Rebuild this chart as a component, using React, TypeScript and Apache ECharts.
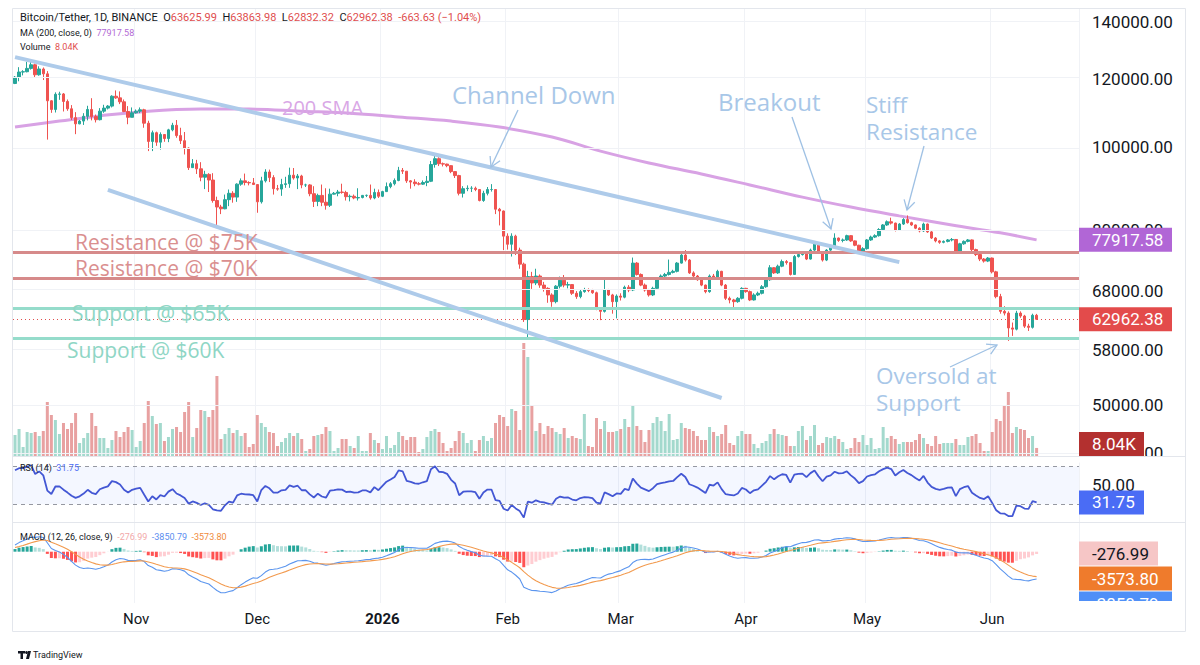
import React, { useEffect, useRef } from "react";
import * as echarts from "echarts";

// ---------------- DATA (BTC/USDT daily, prices in thousands of USDT) ----------------
const firstOpen = 118.6;
const closeOct = [120.6,122.3,122.4,123.5,124.7,121.4,123.3,121.7,113.2,110.6,115.2,115.3,113.0,110.8,108.2,106.4,107.2,108.6,110.6,108.5,107.6,110.1,111.0,111.6,114.6,114.1,112.9,110.0,108.3,109.6];
const highOct = [121.0,123.9,122.9,125.7,126.2,125.1,124.2,123.8,122.6,113.4,115.8,116.0,115.6,113.6,111.9,109.8,107.5,109.5,111.7,114.0,109.1,111.0,112.0,111.9,114.9,116.4,116.1,113.6,111.6,111.2];
const lowOct = [118.4,119.3,121.2,122.2,123.1,120.6,121.1,119.7,102.0,109.6,109.7,113.5,110.0,110.2,107.5,103.5,106.3,106.1,107.4,107.4,106.8,107.4,109.6,110.6,111.2,113.8,112.2,109.8,106.3,108.6];
const closeNov = [110.1,110.5,106.6,101.5,103.9,101.3,103.4,102.3,104.7,106.0,103.1,101.7,99.7,94.6,95.6,94.3,92.2,92.9,91.5,86.6,85.1,84.7,86.8,88.3,87.4,90.5,91.3,90.9,90.8,90.4];
const highNov = [110.6,111.2,110.8,107.3,104.5,104.2,104.0,103.4,105.0,106.7,107.5,105.3,104.1,99.9,96.8,96.6,96.0,93.8,93.2,93.2,87.5,85.6,88.0,89.2,88.8,90.7,91.9,93.1,91.2,92.0];
const lowNov = [109.4,109.5,105.3,98.9,98.9,100.3,99.3,101.4,101.3,104.3,102.5,100.8,98.0,94.0,94.6,93.0,91.2,89.3,88.6,86.1,80.6,83.5,84.6,85.3,86.1,86.3,90.1,90.2,90.2,90.3];
const closeDec = [86.3,91.3,93.5,92.1,89.4,89.3,90.4,90.6,92.7,92.0,92.5,90.3,90.3,88.2,86.4,87.8,86.2,85.5,88.1,88.3,88.6,88.5,87.5,87.6,87.2,87.3,87.8,87.8,87.2,88.5,87.6];
const highDec = [90.4,92.3,94.2,94.1,92.7,90.3,91.8,92.3,94.6,94.5,93.0,92.8,90.6,90.5,90.0,88.2,90.4,89.5,89.4,88.6,89.1,90.6,88.9,88.0,88.0,89.5,87.9,88.0,90.4,89.4,89.2];
const lowDec = [83.8,85.9,90.9,91.0,88.0,88.9,87.7,89.6,89.6,91.6,89.3,89.5,89.8,87.6,85.1,85.3,85.3,84.5,85.1,88.0,87.6,88.2,86.6,86.4,86.9,86.6,87.1,87.4,86.8,86.9,87.2];
const closeJan = [88.7,89.9,90.6,91.4,93.9,93.7,91.3,91.0,90.6,90.5,90.9,91.2,95.4,96.9,95.6,95.5,95.1,93.6,92.6,88.3,89.4,89.5,89.5,89.2,86.6,88.3,89.2,89.2,84.6,84.2,78.7];
const highJan = [88.9,90.9,91.0,91.9,94.8,94.5,93.6,91.5,91.7,91.0,91.4,92.5,96.3,97.9,97.3,95.9,95.6,95.2,93.6,92.8,90.0,90.2,90.0,89.9,89.3,88.9,89.8,90.5,89.2,84.9,84.3];
const lowJan = [87.4,88.6,89.5,90.2,91.2,93.0,90.8,89.4,90.0,90.2,90.3,90.0,91.0,94.6,95.0,94.9,94.7,93.2,92.0,87.8,87.3,88.8,88.6,88.8,86.4,86.3,87.8,88.7,83.5,81.0,75.8];
const closeFeb = [77.0,78.7,75.8,73.0,62.9,70.6,69.4,70.7,69.0,68.4,67.2,66.0,68.8,69.9,69.0,69.1,67.5,66.9,67.8,68.1,68.0,67.6,64.8,64.3,68.1,67.2,66.0,67.0];
const highFeb = [79.3,79.3,79.0,76.3,73.3,71.7,71.5,72.1,71.0,69.6,68.6,67.5,69.0,70.6,70.9,69.6,69.2,67.9,68.1,68.5,68.4,68.3,67.8,65.0,70.2,68.3,67.4,67.3];
const lowFeb = [75.9,74.5,74.8,72.1,62.5,60.0,68.3,69.0,68.5,67.8,65.8,65.1,65.7,68.4,68.6,68.4,67.2,66.5,66.6,67.6,67.7,67.4,64.5,62.8,64.1,67.0,63.9,63.1];
const closeMar = [66.8,68.6,68.1,73.2,71.0,69.0,68.1,67.2,68.4,70.2,70.7,71.0,71.4,71.6,73.2,74.8,73.8,71.3,70.7,70.0,69.0,67.8,70.7,70.4,71.6,69.0,66.6,66.3,66.0,66.6,68.4];
const highMar = [67.5,68.9,69.0,74.3,73.4,71.2,69.3,68.3,68.7,70.5,71.0,71.3,73.9,71.9,73.4,75.0,75.8,74.0,71.6,70.9,70.1,69.1,71.0,71.1,71.9,71.7,69.2,66.9,66.5,66.8,68.6];
const lowMar = [66.2,66.6,67.7,67.9,70.8,68.8,67.8,66.9,67.0,68.2,70.0,70.5,70.8,71.2,71.4,73.1,73.5,71.1,70.5,69.8,68.8,67.5,67.6,70.1,70.2,68.8,66.3,65.7,65.0,65.8,66.4];
const closeApr = [67.8,66.3,67.2,67.5,68.7,70.0,72.3,71.3,72.6,73.5,73.3,71.0,74.5,74.9,75.0,74.0,75.8,77.1,75.4,73.8,75.8,76.4,78.3,77.8,77.9,78.8,77.7,76.8,75.4,76.1];
const highApr = [68.5,68.0,67.5,67.8,69.0,70.3,72.8,72.4,72.9,73.9,73.8,73.4,74.8,75.4,75.3,75.2,76.1,77.5,77.2,75.5,76.0,76.7,79.3,78.4,78.2,79.0,78.9,77.8,76.9,76.4];
const lowApr = [67.6,66.1,66.2,67.0,67.3,68.5,69.8,71.1,71.1,72.4,72.9,70.8,70.9,74.3,74.7,73.8,73.9,75.6,75.2,73.5,73.6,75.6,76.2,77.5,77.4,77.7,77.5,76.6,75.2,75.2];
const closeMay = [77.9,78.5,78.8,80.1,81.1,81.8,81.5,80.0,81.3,82.3,81.6,81.1,80.4,79.8,81.3,79.6,78.3,77.7,77.4,77.6,77.9,78.0,75.4,77.1,77.6,77.9,75.9,74.9,74.0,73.6,74.2];
const highMay = [78.1,78.8,79.1,80.4,81.3,82.1,82.7,81.6,81.5,82.6,83.2,81.8,81.2,80.6,81.6,81.4,79.8,78.5,77.9,77.8,78.1,78.3,78.1,77.3,77.8,78.1,78.0,76.1,75.1,74.2,74.4];
const lowMay = [75.9,77.7,78.3,78.6,79.9,80.9,81.2,79.7,79.8,81.1,81.4,80.9,80.2,79.5,79.6,79.4,78.1,77.4,77.1,77.2,77.4,77.6,75.1,75.2,76.9,77.4,75.6,74.6,73.6,73.3,73.4];
const closeJun = [71.5,66.9,64.3,64.0,61.5,61.3,64.0,63.5,61.8,61.6,63.62599,62.96238];
const highJun = [74.3,71.7,67.4,65.2,64.3,62.4,64.4,64.3,63.7,62.2,63.9,63.86398];
const lowJun = [71.2,66.6,63.9,63.6,59.4,60.2,61.1,63.2,61.5,61.0,61.4,62.83232];

// volume, thousands of BTC
const volA = [21,27,9,24,23,24,20,25,54,41, 36,22,33,27,33,43,13,18,23,43, 30,18,18,8,16,25,19,24,29,26, 9,15,33,55,40,32,33,15,19,27, 29,24,44,54,19,28,46,45,39,46, 80,17,22,28,23,26,20,23,9,12, 41,33,29,24,23,10,14,18,23,20, 23,17,5,7,20,21,22,29,25,5, 8,17,17,10,8,20,5,5,23,16, 13,7,20,8,11,24,20,16,19,19, 4,7,19,25,27,24,13,5,8,15, 25,23,13,16,5,16,20,15,18,33, 41,39,30,47,45,26];
const volB = [113,99,51,25,33,22,30,28,24,22, 28,18,20,18,17,42,10,9,38,27, 35,24,24,25,27,37,29,50,30,26, 14,26,33,39,35,25,42,16,17,33, 28,27,25,20,16,16,29,24,20,22, 31,13,11,20,25,22,22,12,8,13, 15, 22,27,22,21,20,10,10,25,30,16, 20,31,11,13,19,18,20,17,14,7, 8,18,14,21,11,18,7,8,29,18, 20,17,12,14,14,14,16,22,18,12, 10,20,12,13,13,13,17,11,11,19, 20,22,13,5,5,24,37,35,50,64, 23,29,27,26,18,20,8.04];

// 200-day SMA: [candle index, value in thousands]
const maPoints = [[0,105.5],[11,107.2],[21,108.7],[33,110.1],[46,110.7],[58,110.7],[71,110.1],[83,109.5],[95,108.4],[108,107.2],[120,105.5],[133,102.7],[145,98.9],[157,95.8],[170,93.0],[182,90.3],[195,87.4],[207,85.1],[219,83.1],[232,81.1],[244,79.4],[253,77.91758]];

const priceTicks = [44000, 50000, 58000, 68000, 80000, 100000, 120000, 140000];
const rsiTicks = [50];
const resistanceLevels = [75000, 70000];
const supportLevels = [65000, 60000];
const channelUpper = [[0, 127300], [219, 73400]];
const channelLower = [[23, 89100], [175, 50950]];
const lastPrice = 62962.38;
const lastMA = 77917.58;
const lastVol = 8.04;
const lastRSI = 31.75;
const lastHist = -276.99;
const lastSignal = -3573.8;
const lastMacd = -3850.79;
const headerOHLC = ["63625.99", "63863.98", "62832.32", "62962.38"];
const headerChange = "-663.63 (\u22121.04%)";
const monthNames = ["Jan","Feb","Mar","Apr","May","Jun","Jul","Aug","Sep","Oct","Nov","Dec"];

// indicator state at the left edge
const RSI_SEED_GAIN = 1200, RSI_SEED_LOSS = 700;
const EMA12_SEED = 116500, EMA26_SEED = 115800, SIGNAL_SEED = 500;

// ---------------- assembly ----------------
const closes = [...closeOct, ...closeNov, ...closeDec, ...closeJan, ...closeFeb, ...closeMar, ...closeApr, ...closeMay, ...closeJun];
const highs = [...highOct, ...highNov, ...highDec, ...highJan, ...highFeb, ...highMar, ...highApr, ...highMay, ...highJun];
const lows = [...lowOct, ...lowNov, ...lowDec, ...lowJan, ...lowFeb, ...lowMar, ...lowApr, ...lowMay, ...lowJun];
const volumes = [...volA, ...volB];
const N = closes.length;
const START = Date.UTC(2025, 9, 2);
const dates = Array.from({ length: N }, (_, i) => new Date(START + i * 86400000).toISOString().slice(0, 10));
const PAD = 10;
const cats = dates.concat(Array.from({ length: PAD }, (_, k) => "pad" + k));
const isMonthStart = (v: string) => /^\d{4}-\d{2}-01$/.test(v);

const UP = "#26a69a", DN = "#ef5350";
const VUP = "#a3d9cd", VDN = "#e8a1a1";

function build() {
  const opens = closes.map((c, i) => (i === 0 ? firstOpen : closes[i - 1]));
  const candle = closes.map((c, i) => {
    const o = opens[i];
    const h = Math.max(highs[i], o, c);
    const l = Math.min(lows[i], o, c);
    return [Math.log(o * 1000), Math.log(c * 1000), Math.log(l * 1000), Math.log(h * 1000)];
  });
  const vol = volumes.map((v, i) => ({ value: v, itemStyle: { color: closes[i] >= opens[i] ? VUP : VDN } }));
  let ag = RSI_SEED_GAIN, al = RSI_SEED_LOSS, prev = firstOpen * 1000;
  const rsi = closes.map((k) => {
    const c = k * 1000, ch = c - prev;
    ag = (ag * 13 + Math.max(ch, 0)) / 14;
    al = (al * 13 + Math.max(-ch, 0)) / 14;
    prev = c;
    return 100 - 100 / (1 + ag / al);
  });
  let e12 = EMA12_SEED, e26 = EMA26_SEED, sig = SIGNAL_SEED;
  const macd: number[] = [], signal: number[] = [], hist: number[] = [];
  closes.forEach((k) => {
    const c = k * 1000;
    e12 += (2 / 13) * (c - e12);
    e26 += (2 / 27) * (c - e26);
    const m = e12 - e26;
    sig += 0.2 * (m - sig);
    macd.push(m); signal.push(sig); hist.push(m - sig);
  });
  const histData = hist.map((h, i) => {
    const p = i === 0 ? h : hist[i - 1];
    const col = h >= 0 ? (h >= p ? "#26a69a" : "#b2dfdb") : (h < p ? "#ff5252" : "#ffcdd2");
    return { value: h, itemStyle: { color: col } };
  });
  return { candle, vol, rsi, macd, signal, histData };
}

const LMAX = Math.log(145250), LMIN = Math.log(43600);
const GRID_L = 13, GRID_R = 121;

function xAxisFor(g: number) {
  return {
    type: "category", gridIndex: g, data: cats, boundaryGap: true,
    axisLine: { show: false }, axisTick: { show: false },
    axisLabel: g === 3 ? {
      show: true, interval: (i: number, v: string) => isMonthStart(v), margin: 8,
      color: "#131722", fontSize: 15, fontFamily: "Roboto",
      formatter: (v: string) => {
        const m = parseInt(v.slice(5, 7), 10) - 1;
        return m === 0 ? "{b|" + v.slice(0, 4) + "}" : monthNames[m];
      },
      rich: { b: { fontWeight: "bold", fontSize: 15, color: "#131722", fontFamily: "Roboto" } },
    } : { show: false },
    splitLine: { show: g !== 1, interval: (i: number, v: string) => isMonthStart(v), lineStyle: { color: "#f0f2f6", width: 1 } },
  };
}

function arrow(ax: number, ay: number, bx: number, by: number, color: string) {
  const dx = bx - ax, dy = by - ay, L = Math.hypot(dx, dy);
  const ux = -dx / L, uy = -dy / L, len = 11, c = Math.cos(Math.PI / 6), s = Math.sin(Math.PI / 6);
  const p1 = [bx + len * (ux * c - uy * s), by + len * (ux * s + uy * c)];
  const p2 = [bx + len * (ux * c + uy * s), by + len * (-ux * s + uy * c)];
  return [
    { type: "line", z: 50, shape: { x1: ax, y1: ay, x2: bx, y2: by }, style: { stroke: color, lineWidth: 1.3 } },
    { type: "polyline", z: 50, shape: { points: [p1, [bx, by], p2] }, style: { stroke: color, lineWidth: 1.3, fill: null } },
  ];
}

function txt(x: number, y: number, text: string, size: number, color: string, family = "Open Sans", z = 50) {
  return { type: "text", z, x, y, style: { text, fill: color, fontSize: size, fontFamily: family, align: "left", verticalAlign: "middle" } };
}

function txt2(x: number, yFirst: number, text: string, size: number, lh: number, color: string) {
  return { type: "text", z: 50, x, y: yFirst - lh / 2, style: { text, fill: color, fontSize: size, fontFamily: "Open Sans", lineHeight: lh, align: "left", verticalAlign: "top" } };
}

function box(y: number, w: number, fill: string, text: string, color = "#ffffff") {
  return [
    { type: "rect", z: 70, shape: { x: 1079, y: y - 12, width: w, height: 24 }, style: { fill } },
    { type: "text", z: 71, x: 1092, y, style: { text, fill: color, fontSize: 17, fontFamily: "Roboto", align: "left", verticalAlign: "middle" } },
  ];
}

function buildGraphic(ys: any) {
  const BLUE_T = "#a8c7e8";
  const els: any[] = [];
  els.push(txt(282, 107, "200 SMA", 20, "#d9a7e6"));
  els.push(txt(452, 94, "Channel Down", 24, BLUE_T));
  els.push(txt(718, 101, "Breakout", 24, BLUE_T));
  els.push(txt2(866, 104, "Stiff\nResistance", 22.5, 27, BLUE_T));
  els.push(txt2(876, 375, "Oversold at\nSupport", 22.5, 27, BLUE_T));
  els.push(txt(75, 242, "Resistance @ $75K", 21, "#da8f8f"));
  els.push(txt(75, 268, "Resistance @ $70K", 21, "#da8f8f"));
  els.push(txt(72, 313, "Support @ $65K", 21, "#8fd6c5"));
  els.push(txt(67, 350, "Support @ $60K", 21, "#8fd6c5"));
  const AR = "#9fc1e4";
  els.push(...arrow(518, 110, 491, 167, AR));
  els.push(...arrow(792, 117, 831, 229, AR));
  els.push(...arrow(924, 146, 907, 210, AR));
  els.push(...arrow(950, 367, 997, 345, AR));
  const dk = "#131722", rd = "#e04e4e";
  const mk = (fill: string, s = 9) => ({ fill, fontSize: s, fontFamily: "Roboto" });
  const rich = {
    d: mk(dk), r: mk(rd), p: mk("#b36ad5"), b: mk("#4a6cf5"),
    k: mk("#f2a9a9"), u: mk("#5b8def"), o: mk("#f08a3a"),
    D: mk(dk, 11), R: mk(rd, 11),
  };
  const rt = (x: number, y: number, text: string, base = 9) => ({ type: "text", z: 60, x, y, style: { text, rich, fontSize: base, fontFamily: "Roboto", fill: dk, align: "left", verticalAlign: "middle" } });
  els.push(rt(20, 17, "{D|Bitcoin/Tether, 1D, BINANCE}  {D|O}{R|" + headerOHLC[0] + "}  {D|H}{R|" + headerOHLC[1] + "}  {D|L}{R|" + headerOHLC[2] + "}  {D|C}{R|" + headerOHLC[3] + "}  {R|" + headerChange + "}", 11));
  els.push(rt(20, 33, "{d|MA (200, close, 0)}  {p|" + lastMA.toFixed(2) + "}"));
  els.push(rt(20, 47, "{d|Volume}  {r|" + lastVol.toFixed(2) + "K}"));
  els.push(rt(20, 468, "{d|RSI (14)}  {b|" + lastRSI.toFixed(2) + "}"));
  els.push(rt(20, 537, "{d|MACD (12, 26, close, 9)}  {k|" + lastHist.toFixed(2) + "}  {u|" + lastMacd.toFixed(2) + "}  {o|" + lastSignal.toFixed(2) + "}"));
  els.push(...box(ys.ma, 93, "#b166d6", lastMA.toFixed(2)));
  els.push(...box(ys.price, 93, "#e34b4b", lastPrice.toFixed(2)));
  els.push(...box(Math.min(ys.vol, 444), 65, "#b3302f", lastVol.toFixed(2) + "K"));
  els.push(...box(ys.rsi, 65, "#4a6cf5", lastRSI.toFixed(2)));
  const h1 = ys.hist, s1 = Math.max(ys.signal, h1 + 25), m1 = Math.max(ys.macd, s1 + 25);
  els.push(...box(h1, 79, "#f6c6c6", lastHist.toFixed(2), "#131722"));
  els.push(...box(s1, 93, "#ef7b2c", lastSignal.toFixed(2)));
  els.push(...box(m1, 93, "#4f8ff7", lastMacd.toFixed(2)));
  els.push({ type: "rect", z: 80, shape: { x: 1079, y: 601, width: 107, height: 31 }, style: { fill: "#ffffff" } });
  els.push({ type: "rect", z: 80, shape: { x: 1079, y: 456.5, width: 107, height: 6 }, style: { fill: "#ffffff" } });
  const fr = "#e3e6ec";
  els.push({ type: "rect", z: 90, shape: { x: 12.5, y: 8.5, width: 1173, height: 623 }, style: { fill: null, stroke: fr, lineWidth: 1 } });
  els.push({ type: "line", z: 90, shape: { x1: 12.5, y1: 456.5, x2: 1185.5, y2: 456.5 }, style: { stroke: fr, lineWidth: 1 } });
  els.push({ type: "line", z: 90, shape: { x1: 12.5, y1: 522.5, x2: 1185.5, y2: 522.5 }, style: { stroke: fr, lineWidth: 1 } });
  els.push({ type: "rect", z: 90, shape: { x: 18, y: 651, width: 7, height: 2.5 }, style: { fill: dk } });
  els.push({ type: "rect", z: 90, shape: { x: 20.5, y: 651, width: 2.5, height: 8 }, style: { fill: dk } });
  els.push({ type: "circle", z: 90, shape: { cx: 26.5, cy: 652.5, r: 1.4 }, style: { fill: dk } });
  els.push({ type: "polygon", z: 90, shape: { points: [[28, 651], [31, 651], [29, 659], [26, 659]] }, style: { fill: dk } });
  els.push(txt(33, 655, "TradingView", 9, dk, "Roboto", 90));
  return els;
}

export default function App() {
  const ref = useRef<HTMLDivElement>(null);
  useEffect(() => {
    if (!ref.current) return;
    const chart = echarts.init(ref.current, undefined, { renderer: "svg" });
    const d = build();
    const L = (p: number) => Math.log(p);
    const hl = (v: number, color: string, width: number, type: any = "solid") => ({ yAxis: L(v), lineStyle: { color, width, type } });
    const option: any = {
      animation: false,
      backgroundColor: "#ffffff",
      textStyle: { fontFamily: "Roboto" },
      grid: [
        { left: GRID_L, right: GRID_R, top: 8, height: 448 },
        { left: GRID_L, right: GRID_R, top: 336, height: 120 },
        { left: GRID_L, right: GRID_R, top: 457, height: 66 },
        { left: GRID_L, right: GRID_R, top: 523, height: 80 },
      ],
      xAxis: [0, 1, 2, 3].map(xAxisFor),
      yAxis: [
        {
          type: "value", gridIndex: 0, position: "right", min: LMIN, max: LMAX,
          splitLine: { show: false }, axisLine: { show: false }, axisTick: { show: false },
          axisLabel: {
            customValues: priceTicks.map(L), formatter: (v: number) => Math.round(Math.exp(v)).toFixed(2),
            margin: 13, color: "#131722", fontSize: 17, fontFamily: "Roboto", align: "left",
          },
        },
        { type: "value", gridIndex: 1, min: 0, max: 120, show: false },
        {
          type: "value", gridIndex: 2, position: "right", min: 10, max: 80,
          splitLine: { show: false }, axisLine: { show: false }, axisTick: { show: false },
          axisLabel: { customValues: rsiTicks, formatter: (v: number) => v.toFixed(2), margin: 13, color: "#131722", fontSize: 17, fontFamily: "Roboto", align: "left" },
        },
        { type: "value", gridIndex: 3, min: -7440, max: 4160, show: false },
      ],
      series: [
        { type: "bar", name: "Volume", xAxisIndex: 1, yAxisIndex: 1, data: d.vol, barWidth: 3, z: 1, silent: true },
        {
          type: "line", name: "MA200", xAxisIndex: 0, yAxisIndex: 0, z: 3, silent: true,
          data: maPoints.map(([i, v]) => [i, L(v * 1000)]), smooth: 0.4, showSymbol: false,
          lineStyle: { color: "#d8a2e4", width: 3 },
          markLine: {
            silent: true, symbol: ["none", "none"], label: { show: false },
            data: priceTicks.map((p) => hl(p, "#f0f2f6", 1)),
          },
        },
        {
          type: "candlestick", name: "BTCUSDT", xAxisIndex: 0, yAxisIndex: 0, z: 4, data: d.candle, barWidth: 3,
          itemStyle: { color: UP, color0: DN, borderColor: UP, borderColor0: DN, borderWidth: 1 },
          markLine: {
            silent: true, symbol: ["none", "none"], label: { show: false },
            data: [
              ...resistanceLevels.map((v) => hl(v, "#d68a8a", 3)),
              ...supportLevels.map((v) => hl(v, "#95dccb", 3)),
              hl(lastPrice, "#e04e4e", 1, [1, 3]),
              [
                { coord: [channelUpper[0][0], L(channelUpper[0][1])], lineStyle: { color: "#aecbea", width: 4, type: "solid" } },
                { coord: [channelUpper[1][0], L(channelUpper[1][1])] },
              ],
              [
                { coord: [channelLower[0][0], L(channelLower[0][1])], lineStyle: { color: "#aecbea", width: 4, type: "solid" } },
                { coord: [channelLower[1][0], L(channelLower[1][1])] },
              ],
            ],
          },
        },
        {
          type: "line", name: "RSI", xAxisIndex: 2, yAxisIndex: 2, data: d.rsi, showSymbol: false, silent: true,
          lineStyle: { color: "#4357d4", width: 1.8 },
          markArea: { silent: true, itemStyle: { color: "rgba(41,98,255,0.05)" }, data: [[{ yAxis: 70 }, { yAxis: 30 }]] },
          markLine: {
            silent: true, symbol: ["none", "none"], label: { show: false },
            lineStyle: { color: "#9598a1", type: [4, 4], width: 1 },
            data: [{ yAxis: 70 }, { yAxis: 30 }],
          },
        },
        { type: "bar", name: "Histogram", xAxisIndex: 3, yAxisIndex: 3, data: d.histData, barWidth: 3, silent: true },
        { type: "line", name: "MACD", xAxisIndex: 3, yAxisIndex: 3, data: d.macd, showSymbol: false, silent: true, lineStyle: { color: "#5b95ee", width: 1.1 } },
        { type: "line", name: "Signal", xAxisIndex: 3, yAxisIndex: 3, data: d.signal, showSymbol: false, silent: true, lineStyle: { color: "#f29a4e", width: 1.1 } },
      ],
    };
    chart.setOption(option);
    const ys = {
      ma: chart.convertToPixel({ yAxisIndex: 0 }, L(lastMA)) as number,
      price: chart.convertToPixel({ yAxisIndex: 0 }, L(lastPrice)) as number,
      vol: chart.convertToPixel({ yAxisIndex: 1 }, lastVol) as number,
      rsi: chart.convertToPixel({ yAxisIndex: 2 }, lastRSI) as number,
      hist: chart.convertToPixel({ yAxisIndex: 3 }, lastHist) as number,
      signal: chart.convertToPixel({ yAxisIndex: 3 }, lastSignal) as number,
      macd: chart.convertToPixel({ yAxisIndex: 3 }, lastMacd) as number,
    };
    chart.setOption({ graphic: { elements: buildGraphic(ys) } });
    return () => chart.dispose();
  }, []);
  return <div ref={ref} style={{ position: "fixed", left: 0, top: 0, width: 1200, height: 665, background: "#ffffff" }} />;
}
